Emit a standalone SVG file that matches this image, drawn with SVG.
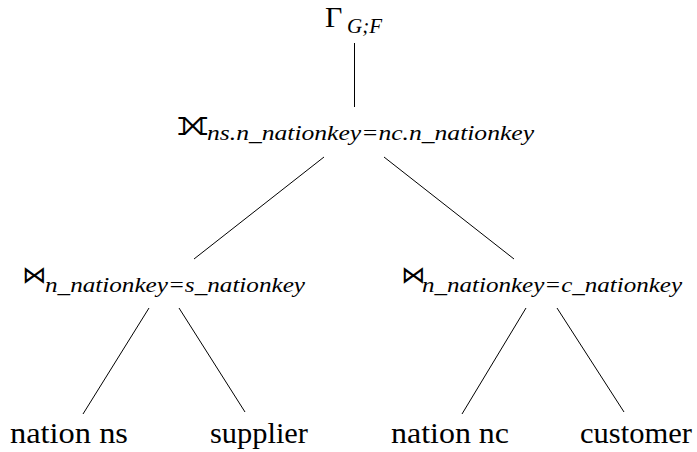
<svg xmlns="http://www.w3.org/2000/svg" width="697" height="452" viewBox="0 0 697 452">
  <style>
    .bg { fill: #ffffff; }
    .edge { stroke: #000000; stroke-width: 1; fill: none; }
    .op { font-family: "Liberation Serif", "DejaVu Serif", serif; font-size: 30px; fill: #000000; }
    .sym { font-family: "DejaVu Sans", sans-serif; fill: #000000; }
    .sub { font-family: "Liberation Serif", "DejaVu Serif", serif; font-style: italic; font-size: 20px; fill: #000000; }
    .leaf { font-family: "Liberation Serif", "DejaVu Serif", serif; font-size: 29px; fill: #000000; }
  </style>
  <rect class="bg" x="0" y="0" width="697" height="452"/>

  <!-- tree edges -->
  <g id="edges">
    <line class="edge" x1="354.5" y1="43" x2="354.5" y2="107"/>
    <line class="edge" x1="324" y1="157" x2="194" y2="259"/>
    <line class="edge" x1="384" y1="157" x2="514" y2="259"/>
    <line class="edge" x1="149" y1="308" x2="83" y2="414"/>
    <line class="edge" x1="179" y1="308" x2="245" y2="412"/>
    <line class="edge" x1="526" y1="308" x2="462" y2="414"/>
    <line class="edge" x1="557" y1="308" x2="624" y2="412"/>
  </g>

  <!-- aggregation at the root -->
  <g id="aggregate">
    <text class="op" x="325" y="27">Γ</text>
    <text class="sub" x="347" y="33" textLength="35" lengthAdjust="spacingAndGlyphs">G;F</text>
  </g>

  <!-- full outer join -->
  <g id="outer-join">
    <text class="sym" x="177" y="135" font-size="36">⟗</text>
    <text class="sub" x="207" y="140" textLength="327" lengthAdjust="spacingAndGlyphs">ns.n_nationkey=nc.n_nationkey</text>
  </g>

  <!-- join nation ns with supplier -->
  <g id="join-supplier">
    <text class="sym" x="22" y="283" font-size="24">⋈</text>
    <text class="sub" x="45" y="292" textLength="260" lengthAdjust="spacingAndGlyphs">n_nationkey=s_nationkey</text>
  </g>

  <!-- join nation nc with customer -->
  <g id="join-customer">
    <text class="sym" x="401" y="283" font-size="24">⋈</text>
    <text class="sub" x="422" y="292" textLength="260" lengthAdjust="spacingAndGlyphs">n_nationkey=c_nationkey</text>
  </g>

  <!-- base relations -->
  <g id="nation-ns">
    <text class="leaf" x="10" y="443" textLength="118" lengthAdjust="spacingAndGlyphs">nation ns</text>
  </g>
  <g id="supplier">
    <text class="leaf" x="210" y="443" textLength="98" lengthAdjust="spacingAndGlyphs">supplier</text>
  </g>
  <g id="nation-nc">
    <text class="leaf" x="391" y="443" textLength="118" lengthAdjust="spacingAndGlyphs">nation nc</text>
  </g>
  <g id="customer">
    <text class="leaf" x="580" y="443" textLength="112" lengthAdjust="spacingAndGlyphs">customer</text>
  </g>
</svg>
